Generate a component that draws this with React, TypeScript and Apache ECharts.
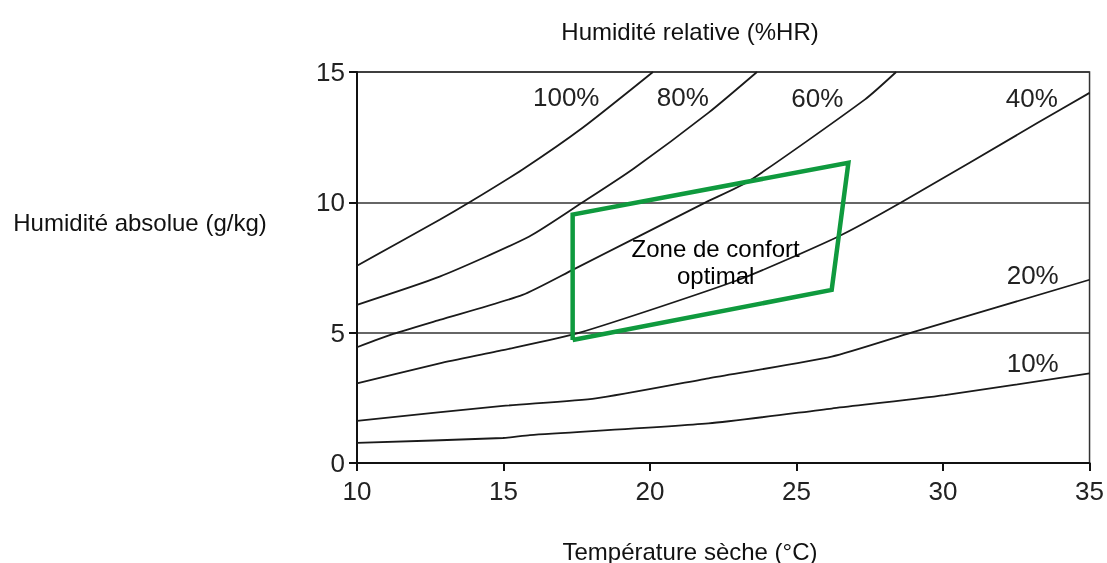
import React, { useEffect, useRef } from "react";
import * as echarts from "echarts";

// Relative humidity curves: [dry temperature °C, absolute humidity g/kg]
const rh100: number[][] = [[10, 7.57], [12.82, 9.33], [13.84, 10], [15.65, 11.26], [17.7, 12.86], [20.1, 15]];
const rh80: number[][] = [[10, 6.07], [12.82, 7.15], [15.88, 8.69], [17.7, 10], [19.4, 11.26], [22.0, 13.44], [23.65, 15]];
const rh60: number[][] = [[10, 4.44], [11.24, 4.95], [12.82, 5.49], [15.65, 6.45], [17.36, 7.41], [21.9, 10], [23.37, 10.81], [27.34, 13.95], [28.4, 15]];
const rh40: number[][] = [[10, 3.05], [12.82, 3.82], [14.98, 4.33], [17.6, 5], [23.03, 7.03], [26.43, 8.69], [28.58, 10], [33.23, 13.05], [35, 14.2]];
const rh20: number[][] = [[10, 1.62], [14.98, 2.19], [18.15, 2.48], [22.0, 3.25], [26.2, 4.08], [28.92, 5], [35, 7.03]];
const rh10: number[][] = [[10, 0.77], [14.98, 0.96], [15.9, 1.07], [22, 1.52], [26.2, 2.09], [30.06, 2.6], [35, 3.44]];

// Comfort zone polygon (closed)
const comfortZone: number[][] = [[17.36, 4.72], [26.2, 6.64], [26.77, 11.52], [17.36, 9.53], [17.36, 4.72]];

// Curve labels and anchor positions (data coordinates)
const rhLabels: string[] = ["100%", "80%", "60%", "40%", "20%", "10%"];
const rhLabelT: number[] = [17.14, 21.12, 25.71, 33.03, 33.06, 33.06];
const rhLabelH: number[] = [14.03, 14.03, 13.99, 13.99, 7.22, 3.83];

const zoneLabel = "Zone de confort\noptimal";
const zoneLabelPos: number[] = [22.24, 7.71];

const xTicks = { min: 10, max: 35, interval: 5 };
const yTicks = { min: 0, max: 15, interval: 5 };

const titleTop = "Humidité relative (%HR)";
const titleBottom = "Température sèche (°C)";
const titleLeft = "Humidité absolue (g/kg)";

const FONT = "'Liberation Sans', Arial, Helvetica, sans-serif";

export default function App() {
  const ref = useRef<HTMLDivElement>(null);
  useEffect(() => {
    document.body.style.margin = "0";
    const chart = echarts.init(ref.current!, null, { renderer: "svg" });
    const curves = [rh100, rh80, rh60, rh40, rh20, rh10];
    const curveSeries = curves.map((d) => ({
      type: "line",
      data: d,
      symbol: "none",
      smooth: 0.2,
      lineStyle: { color: "#1a1a1a", width: 1.8 },
      z: 2,
      silent: true,
    }));
    chart.setOption({
      animation: false,
      grid: {
        left: 357,
        right: 15,
        top: 72,
        bottom: 100,
        show: true,
        borderColor: "#333",
        borderWidth: 1.5,
      },
      xAxis: {
        type: "value",
        min: xTicks.min,
        max: xTicks.max,
        interval: xTicks.interval,
        axisLine: { show: true, lineStyle: { color: "#111", width: 2 } },
        axisTick: { show: true, length: 8, lineStyle: { color: "#111", width: 2 } },
        axisLabel: { color: "#222", fontSize: 26, fontFamily: FONT, margin: 15 },
        splitLine: { show: false },
      },
      yAxis: {
        type: "value",
        min: yTicks.min,
        max: yTicks.max,
        interval: yTicks.interval,
        axisLine: { show: true, lineStyle: { color: "#111", width: 2 } },
        axisTick: { show: true, length: 8, lineStyle: { color: "#111", width: 2 } },
        axisLabel: { color: "#222", fontSize: 26, fontFamily: FONT, margin: 12 },
        splitLine: { show: true, lineStyle: { color: "#333", width: 1.5 } },
      },
      graphic: [
        {
          type: "text",
          x: 690,
          y: 31,
          style: { text: titleTop, fontSize: 24, fontFamily: FONT, fill: "#111", textAlign: "center", textVerticalAlign: "middle" },
        },
        {
          type: "text",
          x: 690,
          y: 551,
          style: { text: titleBottom, fontSize: 24, fontFamily: FONT, fill: "#111", textAlign: "center", textVerticalAlign: "middle" },
        },
        {
          type: "text",
          x: 140,
          y: 222,
          style: { text: titleLeft, fontSize: 24, fontFamily: FONT, fill: "#111", textAlign: "center", textVerticalAlign: "middle" },
        },
      ],
      series: [
        ...curveSeries,
        {
          type: "line",
          data: comfortZone,
          symbol: "none",
          lineStyle: { color: "#0f9a3e", width: 4.5, join: "miter" },
          z: 3,
          silent: true,
        },
        {
          type: "scatter",
          symbolSize: 1,
          itemStyle: { color: "transparent", opacity: 1 },
          z: 4,
          silent: true,
          data: rhLabels.map((name, i) => ({ name, value: [rhLabelT[i], rhLabelH[i]] })),
          label: {
            show: true,
            position: "inside",
            formatter: (p: any) => p.name,
            color: "#222",
            opacity: 1,
            textBorderWidth: 0,
            fontSize: 26,
            fontFamily: FONT,
          },
        },
        {
          type: "scatter",
          symbolSize: 1,
          itemStyle: { color: "transparent", opacity: 1 },
          z: 4,
          silent: true,
          data: [{ name: zoneLabel, value: zoneLabelPos }],
          label: {
            show: true,
            position: "inside",
            formatter: (p: any) => p.name,
            color: "#000",
            opacity: 1,
            textBorderWidth: 0,
            fontSize: 24,
            lineHeight: 27,
            align: "center",
            fontFamily: FONT,
          },
        },
      ],
    });
    return () => chart.dispose();
  }, []);
  return <div ref={ref} style={{ position: "fixed", left: 0, top: 0, width: 1107, height: 563 }} />;
}
